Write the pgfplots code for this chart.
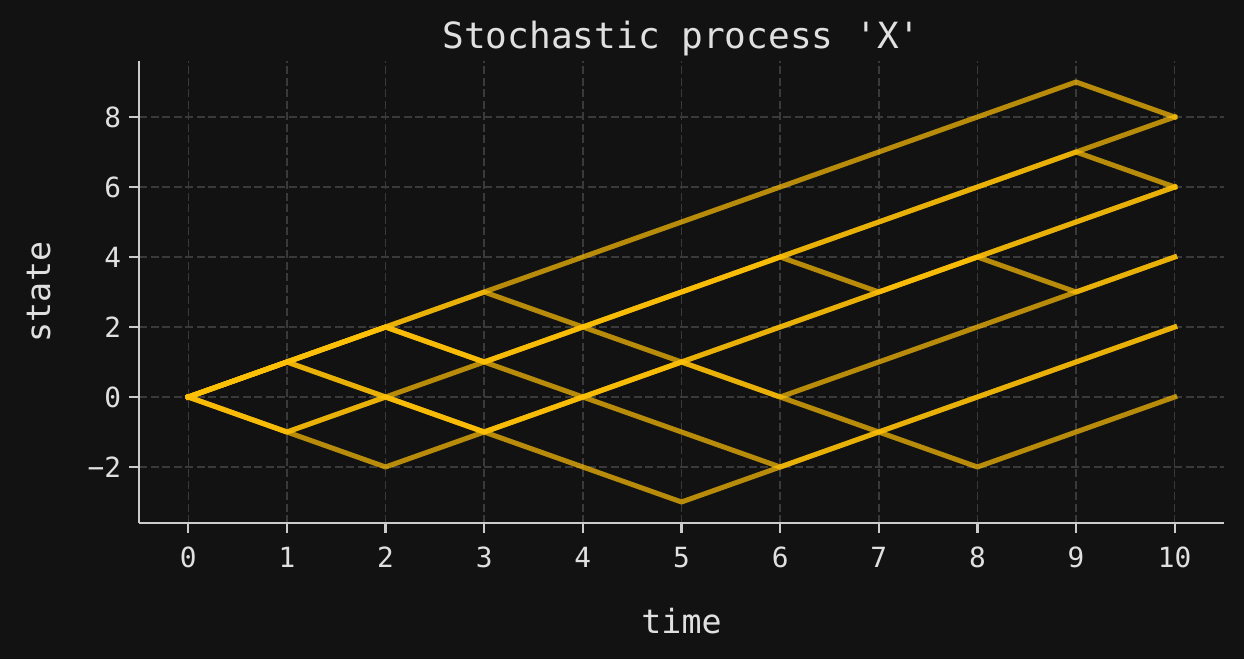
\documentclass[border=0pt]{standalone}
\usepackage{pgfplots}
\pgfplotsset{compat=1.18}
\usepackage{fontspec}
\newfontfamily\mono{DejaVu Sans Mono}
\definecolor{bg}{RGB}{18,18,18}
\definecolor{fg}{RGB}{224,224,224}
\definecolor{spine}{RGB}{204,204,204}
\definecolor{gridc}{RGB}{58,58,58}
\definecolor{gold}{RGB}{255,193,7}
\pgfplotsset{walk/.style={draw=gold, line width=5pt, opacity=0.7, line join=round, line cap=rect, mark=none}}
\begin{document}
\begin{tikzpicture}
\fill[bg, use as bounding box] (0,0) rectangle (1244pt,659pt);
\begin{axis}[
  at={(139pt,136pt)}, anchor=south west,
  scale only axis, width=1085pt, height=462pt,
  xmin=-0.5, xmax=10.5, ymin=-3.6, ymax=9.6,
  axis x line*=bottom, axis y line*=left,
  axis line style={spine, line width=2.2pt, -},
  xtick={0,1,2,3,4,5,6,7,8,9,10}, xticklabels={0,1,2,3,4,5,6,7,8,9,10},
  ytick={-2,0,2,4,6,8}, yticklabels={−2,0,2,4,6,8},
  tick align=outside, major tick length=9.7pt,
  tick style={spine, line width=2.2pt},
  grid=major,
  major grid style={gridc, line width=1.6pt, dash pattern=on 8pt off 3.5pt},
  ticklabel style={fg, inner sep=0pt, font=\mono\fontsize{27.8}{30}\selectfont},
  xticklabel style={anchor=base, yshift=-34.5pt},
  yticklabel style={anchor=east, xshift=-8pt},
  title={Stochastic process \textquotesingle X\textquotesingle},
  every axis title/.style={at={(axis description cs:0.5,1)}, anchor=base, yshift=13pt, fg, font=\mono\fontsize{36.1}{40}\selectfont},
  xlabel={time},
  every axis x label/.style={at={(axis description cs:0.5,-0.2381)}, anchor=base, fg, font=\mono\fontsize{33.3}{36}\selectfont},
  ylabel={state},
  every axis y label/.style={at={(axis description cs:-0.082,0.5)}, anchor=base, rotate=90, fg, font=\mono\fontsize{33.3}{36}\selectfont},
]
\addplot[walk] coordinates {(0,0)(1,1)(2,2)(3,3)(4,4)(5,5)(6,6)(7,7)(8,8)(9,9)(10,8)};
\addplot[walk] coordinates {(0,0)(1,1)(2,2)(3,3)(4,2)(5,3)(6,4)(7,5)(8,6)(9,7)(10,8)};
\addplot[walk] coordinates {(0,0)(1,1)(2,2)(3,1)(4,2)(5,3)(6,4)(7,5)(8,6)(9,7)(10,6)};
\addplot[walk] coordinates {(0,0)(1,1)(2,2)(3,1)(4,2)(5,3)(6,4)(7,3)(8,4)(9,5)(10,6)};
\addplot[walk] coordinates {(0,0)(1,1)(2,2)(3,1)(4,2)(5,1)(6,2)(7,3)(8,4)(9,5)(10,6)};
\addplot[walk] coordinates {(0,0)(1,1)(2,0)(3,1)(4,0)(5,1)(6,2)(7,3)(8,4)(9,3)(10,4)};
\addplot[walk] coordinates {(0,0)(1,1)(2,0)(3,-1)(4,0)(5,1)(6,0)(7,1)(8,2)(9,3)(10,4)};
\addplot[walk] coordinates {(0,0)(1,-1)(2,0)(3,-1)(4,0)(5,1)(6,0)(7,-1)(8,0)(9,1)(10,2)};
\addplot[walk] coordinates {(0,0)(1,-1)(2,0)(3,-1)(4,0)(5,-1)(6,-2)(7,-1)(8,0)(9,1)(10,2)};
\addplot[walk] coordinates {(0,0)(1,-1)(2,-2)(3,-1)(4,-2)(5,-3)(6,-2)(7,-1)(8,-2)(9,-1)(10,0)};
\end{axis}
\end{tikzpicture}
\end{document}
